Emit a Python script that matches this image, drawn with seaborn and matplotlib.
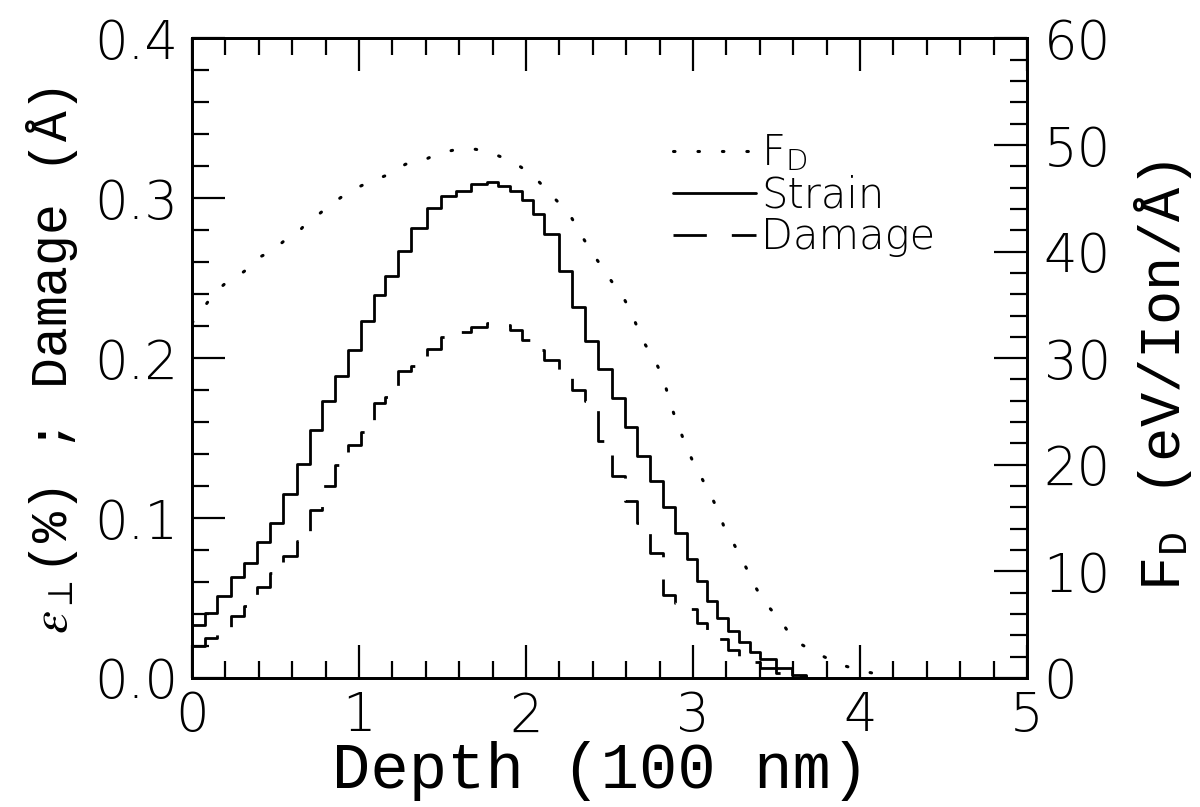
import numpy as np
import pandas as pd
import matplotlib
matplotlib.use("Agg")
import matplotlib.pyplot as plt
import seaborn as sns
from matplotlib.lines import Line2D
from matplotlib.ticker import MultipleLocator

# Depth-bin edges (100 nm units)
depth_edges = [0.000, 0.078, 0.152, 0.232, 0.312, 0.388, 0.467, 0.547, 0.627, 0.707,
               0.781, 0.857, 0.936, 1.013, 1.087, 1.155, 1.233, 1.314, 1.406, 1.490,
               1.580, 1.672, 1.766, 1.835, 1.905, 1.975, 2.045, 2.105, 2.195, 2.275,
               2.355, 2.430, 2.515, 2.590, 2.666, 2.744, 2.818, 2.894, 2.964, 3.023,
               3.086, 3.144, 3.211, 3.273, 3.341, 3.403, 3.499, 3.593, 3.679]

# Perpendicular strain (%) in each bin
strain = [0.0333, 0.0406, 0.0515, 0.0631, 0.0719, 0.0848, 0.0969, 0.1152, 0.1338, 0.1548,
          0.1733, 0.1890, 0.2052, 0.2233, 0.2396, 0.2515, 0.2673, 0.2817, 0.2942, 0.3013,
          0.3046, 0.3088, 0.3104, 0.3079, 0.3047, 0.2992, 0.2903, 0.2779, 0.2545, 0.2323,
          0.2108, 0.1930, 0.1750, 0.1569, 0.1391, 0.1229, 0.1069, 0.0906, 0.0745, 0.0606,
          0.0482, 0.0375, 0.0291, 0.0224, 0.0163, 0.0116, 0.0063, 0.0020]

# Damage (Angstrom) in each bin
damage = [0.0198, 0.0250, 0.0310, 0.0385, 0.0448, 0.0568, 0.0656, 0.0760, 0.0854, 0.1048,
          0.1198, 0.1333, 0.1458, 0.1540, 0.1719, 0.1760, 0.1917, 0.1950, 0.2056, 0.2133,
          0.2163, 0.2196, 0.2219, 0.2208, 0.2175, 0.2115, 0.2052, 0.1990, 0.1927, 0.1802,
          0.1735, 0.1480, 0.1260, 0.1104, 0.0969, 0.0780, 0.0520, 0.0470, 0.0430, 0.0346,
          0.0300, 0.0245, 0.0172, 0.0130, 0.0100, 0.0063, 0.0030, 0.0010]

# Deposited damage energy F_D (eV/Ion/A)
fd_depth = [0.000, 0.028, 0.082, 0.132, 0.198, 0.274, 0.343, 0.407, 0.483, 0.551,
            0.623, 0.681, 0.751, 0.821, 0.893, 0.963, 1.043, 1.122, 1.203, 1.278,
            1.362, 1.446, 1.530, 1.616, 1.700, 1.785, 1.865, 1.945, 2.019, 2.081,
            2.141, 2.201, 2.261, 2.305, 2.345, 2.391, 2.440, 2.491, 2.540, 2.590,
            2.630, 2.664, 2.694, 2.740, 2.784, 2.820, 2.844, 2.868, 2.896, 2.928,
            2.960, 2.994, 3.034, 3.074, 3.114, 3.153, 3.183, 3.223, 3.264, 3.303,
            3.343, 3.379, 3.423, 3.479, 3.533, 3.579, 3.643, 3.719, 3.872, 4.000, 4.150]
fd_value = [33.3, 33.9, 35.0, 36.1, 37.0, 37.7, 38.5, 39.5, 40.1, 41.0,
            41.6, 42.6, 43.4, 44.3, 45.1, 45.8, 46.4, 46.9, 47.4, 48.2,
            48.4, 49.0, 49.4, 49.7, 49.6, 49.3, 48.8, 48.2, 47.4, 46.5,
            45.5, 44.5, 43.5, 42.3, 41.2, 40.0, 38.9, 37.7, 36.6, 35.5,
            34.3, 33.0, 31.8, 30.6, 29.4, 28.2, 26.9, 25.6, 24.3, 23.0,
            21.7, 20.5, 19.3, 18.1, 16.9, 15.6, 14.3, 13.2, 12.0, 10.8,
            9.6, 8.4, 7.2, 6.2, 5.2, 4.1, 3.2, 2.5, 1.3, 0.7, 0.2]

x_ticks = [0, 1, 2, 3, 4, 5]
left_ticks = [0.0, 0.1, 0.2, 0.3, 0.4]
right_ticks = [0, 10, 20, 30, 40, 50, 60]

sns.set_theme(style="ticks")
plt.rcParams["font.family"] = ["DejaVu Sans"]
plt.rcParams["mathtext.fontset"] = "stix"
for key in ("text.color", "axes.labelcolor", "xtick.color", "ytick.color", "axes.edgecolor"):
    plt.rcParams[key] = "black"

TICK_FONT = dict(family="DejaVu Sans", size=38, weight="light", color="black")
LABEL_FONT = "Liberation Mono"

fig = plt.figure(figsize=(12, 8.07), dpi=100)
ax = fig.add_axes([0.160, 0.160, 0.6958, 0.7923])

dashed = (0, (13, 8))
dotted = (0, (0.5, 7.5))

strain_df = pd.DataFrame({"depth": depth_edges, "value": strain + [0.0]})
damage_df = pd.DataFrame({"depth": depth_edges, "value": damage + [0.0]})

sns.lineplot(data=strain_df, x="depth", y="value", ax=ax, estimator=None, sort=False,
             drawstyle="steps-post", color="black", lw=2.0)
sns.lineplot(data=damage_df, x="depth", y="value", ax=ax, estimator=None, sort=False,
             drawstyle="steps-post", color="black", lw=2.0, linestyle=dashed)

ax2 = ax.twinx()
sns.lineplot(x=fd_depth, y=fd_value, ax=ax2, estimator=None, sort=False,
             color="black", lw=2.2, linestyle=dotted, dash_capstyle="round")

ax.set_xlim(0, 5)
ax.set_ylim(0, 0.4)
ax2.set_ylim(0, 60)

ax.set_xticks(x_ticks)
ax.set_xticklabels([str(t) for t in x_ticks], fontdict=TICK_FONT)
ax.set_yticks(left_ticks)
ax.set_yticklabels([f"{t:.1f}" for t in left_ticks], fontdict=TICK_FONT)
ax2.set_yticks(right_ticks)
ax2.set_yticklabels([str(t) for t in right_ticks], fontdict=TICK_FONT)
ax.xaxis.set_minor_locator(MultipleLocator(0.2))
ax.yaxis.set_minor_locator(MultipleLocator(0.02))
ax2.yaxis.set_minor_locator(MultipleLocator(2))

for a in (ax, ax2):
    for s in a.spines.values():
        s.set_linewidth(2.0)
        s.set_color("black")
        s.set_visible(True)

ax.tick_params(which="both", direction="in", top=True, bottom=True, left=True, right=False,
               width=1.6, color="black")
ax.tick_params(which="major", length=24)
ax.tick_params(which="minor", length=12)
ax.tick_params(axis="x", which="major", pad=9)
ax.tick_params(axis="y", which="major", pad=10)
ax2.tick_params(which="both", direction="in", right=True, left=False, width=1.6, color="black")
ax2.tick_params(which="major", length=24, pad=12)
ax2.tick_params(which="minor", length=12)

ax.set_xlabel("Depth (100 nm)", family=LABEL_FONT, size=46)
ax.set_ylabel(r"$\varepsilon_{\perp}$(%) ; Damage (Å)", family=LABEL_FONT, size=37)
ax2.set_ylabel(r"F$_\mathregular{D}$ (eV/Ion/Å)", family=LABEL_FONT, size=41, rotation=90)
ax.xaxis.label.set_va("center")
ax.yaxis.label.set_va("center")
ax2.yaxis.label.set_va("center")
ax.xaxis.set_label_coords(0.489, -0.145)
ax.yaxis.set_label_coords(-0.168, 0.497)
ax2.yaxis.set_label_coords(1.163, 0.473)

handles = [
    Line2D([], [], color="black", lw=2.2, linestyle=dotted, dash_capstyle="round"),
    Line2D([], [], color="black", lw=2.0),
    Line2D([], [], color="black", lw=2.0, linestyle=(0, (12, 9))),
]
labels = [r"F$_\mathregular{D}$", "Strain", "Damage"]
ax.legend(handles, labels, loc="upper left", bbox_to_anchor=(0.576, 0.853), frameon=False,
          prop=dict(family="DejaVu Sans", size=30, weight="light"),
          handlelength=2.0, handletextpad=0.12, borderpad=0, borderaxespad=0,
          labelspacing=0.02)

fig.savefig("out.png", dpi=100, facecolor="white")
